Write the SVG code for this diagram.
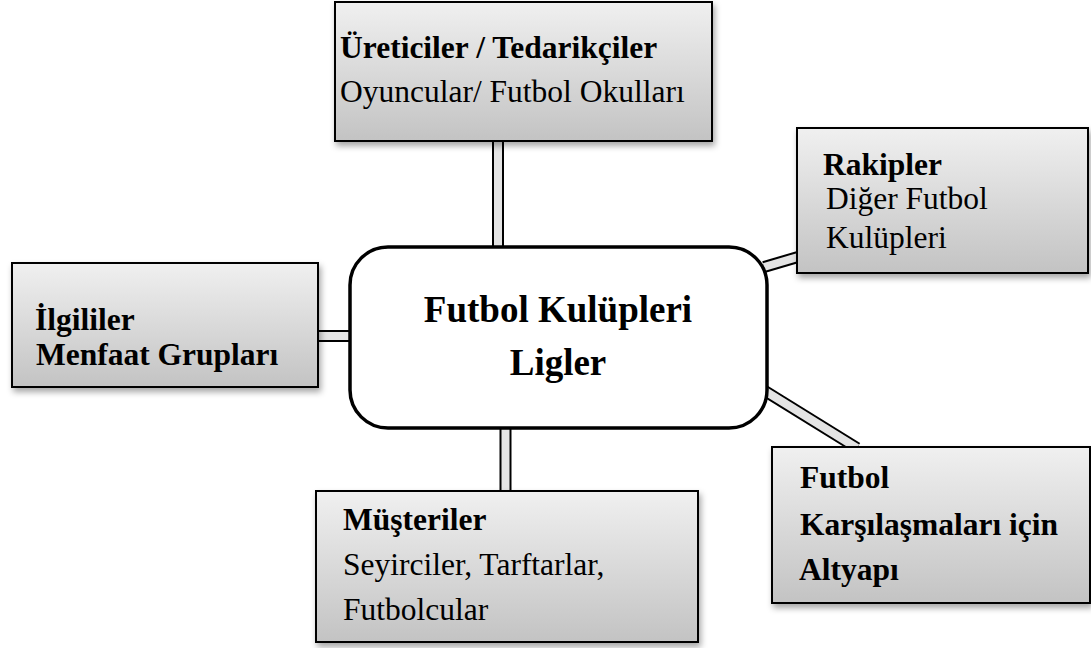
<svg xmlns="http://www.w3.org/2000/svg" width="1091" height="648" viewBox="0 0 1091 648">
<defs>
<linearGradient id="g" x1="0" y1="0" x2="0" y2="1">
<stop offset="0" stop-color="#f0f0f0"/>
<stop offset="1" stop-color="#c3c3c3"/>
</linearGradient>
<filter id="sh" x="-10%" y="-10%" width="125%" height="130%">
<feDropShadow dx="2" dy="4" stdDeviation="3" flood-color="#000" flood-opacity="0.35"/>
</filter>
<style>
.box{fill:url(#g);stroke:#000;stroke-width:2;filter:url(#sh)}
.hub{fill:#fff;stroke:#000;stroke-width:3.5}
.co{stroke:#000;stroke-width:12;fill:none}
.ci{stroke:#e4e4e4;stroke-width:8;fill:none}
text{font-family:"Liberation Serif","Times New Roman",serif;fill:#000;font-size:31.5px}
.b{font-weight:bold}
.c{font-size:37px;font-weight:bold;text-anchor:middle}
</style>
</defs>
<g id="connectors">
<line class="co" x1="498" y1="140" x2="498" y2="247"/>
<line class="ci" x1="498" y1="140" x2="498" y2="247"/>
<line class="co" x1="505.5" y1="428" x2="505.5" y2="491"/>
<line class="ci" x1="505.5" y1="428" x2="505.5" y2="491"/>
<line class="co" x1="318" y1="336" x2="352" y2="336"/>
<line class="ci" x1="318" y1="336" x2="352" y2="336"/>
<line class="co" x1="764" y1="267" x2="798" y2="257"/>
<line class="ci" x1="764" y1="267" x2="798" y2="257"/>
<line class="co" x1="765" y1="391" x2="857" y2="448"/>
<line class="ci" x1="765" y1="391" x2="857" y2="448"/>
</g>
<g id="top">
<rect class="box" x="335" y="2" width="377" height="139"/>
<text class="b" x="340" y="58">Üreticiler / Tedarikçiler</text>
<text x="340" y="102">Oyuncular/ Futbol Okulları</text>
</g>
<g id="rakipler">
<rect class="box" x="797" y="128" width="291" height="145"/>
<text class="b" x="823" y="175">Rakipler</text>
<text x="826" y="209">Diğer Futbol</text>
<text x="826" y="248">Kulüpleri</text>
</g>
<g id="ilgililer">
<rect class="box" x="12" y="263" width="306" height="124"/>
<text class="b" x="35" y="330">İlgililer</text>
<text class="b" x="36" y="365">Menfaat Grupları</text>
</g>
<g id="center">
<rect class="hub" x="350" y="247" width="417" height="181" rx="38" ry="38"/>
<text class="c" x="558" y="322">Futbol Kulüpleri</text>
<text class="c" x="558" y="375">Ligler</text>
</g>
<g id="musteriler">
<rect class="box" x="316" y="491" width="382" height="151"/>
<text class="b" x="343" y="530">Müşteriler</text>
<text x="343" y="575">Seyirciler, Tarftarlar,</text>
<text x="343" y="620">Futbolcular</text>
</g>
<g id="altyapi">
<rect class="box" x="772" y="447" width="318" height="156"/>
<text class="b" x="800" y="488">Futbol</text>
<text class="b" x="800" y="535">Karşılaşmaları için</text>
<text class="b" x="799" y="580">Altyapı</text>
</g>
</svg>
